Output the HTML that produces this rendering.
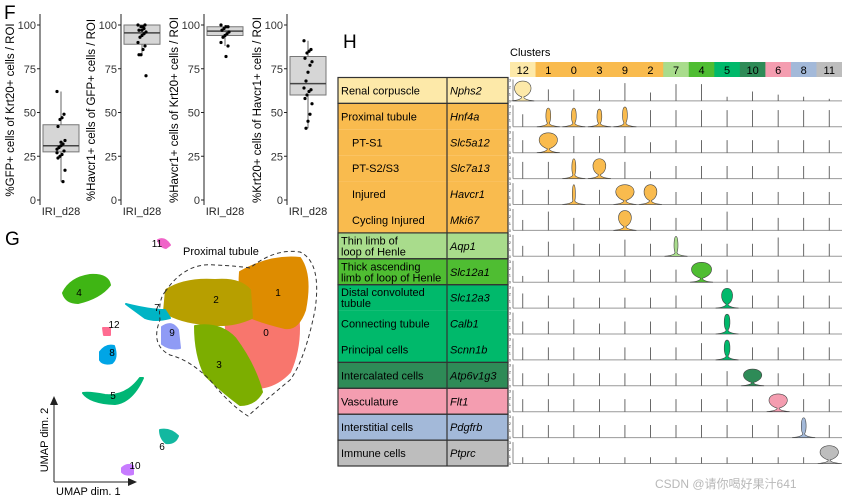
<!DOCTYPE html>
<html><head><meta charset="utf-8"><style>
html,body{margin:0;padding:0;background:#fff;}
svg{display:block;font-family:"Liberation Sans","Noto Sans CJK SC",sans-serif;}
</style></head><body>
<svg id="fig" width="842" height="500" viewBox="0 0 842 500">
<text x="4" y="19" font-size="19">F</text>
<text x="5" y="245" font-size="19">G</text>
<text x="343" y="48" font-size="19">H</text>
<g id="boxes"></g>
<g id="umap"></g>
<g id="violin"></g>
<text x="655" y="488" font-size="12" fill="#b8b8b8">CSDN @请你喝好果汁641</text>
</svg>
<script>
const NS='http://www.w3.org/2000/svg';
function mk(parent,tag,attrs,text){const e=document.createElementNS(NS,tag);for(const k in attrs)e.setAttribute(k,attrs[k]);if(text!==undefined)e.textContent=text;parent.appendChild(e);return e;}

// ---------- F: boxplots ----------
const boxTitles=['%GFP+ cells of Krt20+ cells / ROI','%Havcr1+ cells of GFP+ cells / ROI','%Havcr1+ cells of Krt20+ cells / ROI','%Krt20+ cells of Havcr1+ cells / ROI'];
const boxQ1=[27.5,89,94,60];
const boxMed=[31,95.5,96.5,66.5];
const boxQ3=[43,100,99,82];
const boxLo=[10.5,83,88,41];
const boxHi=[62,100,100,91];
const boxPts=[
 [62,49,47,46,42,34,32,31,30,29,28,26,25,24,17,10.5,33,30,27],
 [100,100,99,99,97,96,95,94,93,90,88,86,83,83,71,98,97],
 [100,99,99,98,97,96,95,94,93,90,88,82],
 [91,86,85,84,81,79,77,73,68,64,63,62,60,58,55,49,45,41]
];
const yTicks=[0,25,50,75,100];
const boxAxisX=[40,121,204,287];
const yScale=v=>200-v*1.75;
const gB=document.getElementById('boxes');
boxTitles.forEach((t,i)=>{
  const ax=boxAxisX[i];
  const g=mk(gB,'g',{});
  
  
  const axl=mk(g,'line',{x1:ax,y1:14,x2:ax,y2:205,stroke:'#222','stroke-width':1});
  
  yTicks.forEach(v=>{
    mk(g,'line',{x1:ax-3,y1:yScale(v),x2:ax,y2:yScale(v),stroke:'#222'});
    const tl=mk(g,'text',{x:ax-4,y:yScale(v)+4,'font-size':11,'text-anchor':'end',fill:'#333'},v);
    
  });
  const yt=mk(g,'text',{x:0,y:0,'font-size':11.5,'text-anchor':'middle',transform:`translate(${ax-26},${110}) rotate(-90)`},t);
  
  const xl=mk(g,'text',{x:ax+21,y:215,'font-size':11,'text-anchor':'middle',fill:'#222'},'IRI_d28');
  
  const cx=ax+21;
  mk(g,'line',{x1:cx,y1:yScale(boxLo[i]),x2:cx,y2:yScale(boxHi[i]),stroke:'#666'});
  const b=mk(g,'rect',{x:cx-18,y:yScale(boxQ3[i]),width:36,height:yScale(boxQ1[i])-yScale(boxQ3[i]),fill:'#d6d6d6',stroke:'#777','stroke-width':1});
  
  mk(g,'line',{x1:cx-18,y1:yScale(boxMed[i]),x2:cx+18,y2:yScale(boxMed[i]),stroke:'#444','stroke-width':1.5});
  boxPts[i].forEach((v,j)=>{
    const p=mk(g,'circle',{cx:cx+((j*7)%9-4),cy:yScale(v),r:1.6,fill:'#000'});
    
  });
});

// ---------- G: UMAP ----------
const gU=document.getElementById('umap');
const umapClusters=['0','1','2','3','4','5','6','7','8','9','10','11','12'];
const umapColors=['#f8766d','#de8c00','#b79f00','#7cae00','#3fb514','#00b675','#13b8a0','#00b4c5','#00a5e6','#8f9bf5','#c77cff','#f064c8','#ff6c91'];
const umapShapes={
 '0':'M225,318 Q255,305 298,312 Q302,345 290,372 Q275,388 255,388 Q240,370 228,350Z',
 '1':'M240,272 Q270,255 300,258 Q312,275 305,310 Q298,330 285,328 Q260,322 245,315 Q238,300 240,272Z',
 '2':'M166,290 Q185,278 215,280 Q240,278 250,290 L252,318 Q230,328 205,324 Q180,322 164,312Z',
 '3':'M195,326 Q220,322 235,338 Q255,365 262,392 Q255,405 240,405 Q220,390 205,375 Q195,355 195,326Z',
 '9':'M162,327 Q172,320 178,330 L180,348 Q170,350 162,344Z',
 '7':'M126,304 Q150,310 165,310 L170,318 Q155,322 145,318Z',
 '4':'M63,293 Q70,278 90,275 Q108,274 110,285 Q100,298 78,303 Q66,303 63,293Z',
 '12':'M103,328 L110,328 L110,335 L104,335Z',
 '8':'M100,352 Q106,344 114,346 Q118,358 112,363 Q103,365 100,360Z',
 '5':'M83,393 Q90,403 115,404 Q132,402 143,378 L140,378 Q126,397 105,395 Q90,392 83,393Z',
 '6':'M160,430 Q170,428 178,436 Q175,444 166,443 Q160,438 160,430Z',
 '10':'M122,468 Q128,463 133,466 L133,474 Q126,476 122,472Z',
 '11':'M158,240 Q165,237 170,245 L166,248 Q160,247 158,240Z'
};
const umapLabelPos={'0':[266,336],'1':[278,296],'2':[216,303],'3':[219,368],'4':[79,296],'5':[113,399],'6':[162,450],'7':[157,311],'8':[112,356],'9':[172,336],'10':[135,469],'11':[157,247],'12':[114,328]};
umapClusters.forEach((c,i)=>{
  const p=mk(gU,'path',{d:umapShapes[c],fill:umapColors[i],stroke:umapColors[i],'stroke-width':2,'stroke-linejoin':'round'});
  
  const t=mk(gU,'text',{x:umapLabelPos[c][0],y:umapLabelPos[c][1],'font-size':10,'text-anchor':'middle'},c);
  
});
const dash=mk(gU,'path',{d:'M165,292 Q185,262 215,265 Q238,266 250,268 Q275,248 300,252 Q322,262 315,310 Q305,360 290,380 Q268,398 248,416 Q230,405 210,380 Q190,360 170,355 Q150,345 160,320 Q158,300 165,292Z',fill:'none',stroke:'#333','stroke-dasharray':'4,3','stroke-width':1});

const ptl=mk(gU,'text',{x:183,y:255,'font-size':11},'Proximal tubule');

mk(gU,'line',{x1:54,y1:482,x2:54,y2:400,stroke:'#222'});
mk(gU,'path',{d:'M54,396 L50,405 L58,405Z',fill:'#222'});
mk(gU,'line',{x1:54,y1:482,x2:132,y2:482,stroke:'#222'});
mk(gU,'path',{d:'M137,482 L128,478 L128,486Z',fill:'#222'});
const ux=mk(gU,'text',{x:56,y:495,'font-size':11},'UMAP dim. 1');

const uy=mk(gU,'text',{x:0,y:0,'font-size':11,'text-anchor':'middle',transform:'translate(48,440) rotate(-90)'},'UMAP dim. 2');


// ---------- H: stacked violin ----------
const vClusters=['12','1','0','3','9','2','7','4','5','10','6','8','11'];
const vClusterColors=['#fde9a9','#f9bb4e','#f9bb4e','#f9bb4e','#f9bb4e','#f9bb4e','#a9dc8c','#4fbd32','#00b96b','#2e8b57','#f49db0','#a3b9d9','#bdbdbd'];
const genes=['Nphs2','Hnf4a','Slc5a12','Slc7a13','Havcr1','Mki67','Aqp1','Slc12a1','Slc12a3','Calb1','Scnn1b','Atp6v1g3','Flt1','Pdgfrb','Ptprc'];
const rowColors=['#fde9a9','#f9bb4e','#f9bb4e','#f9bb4e','#f9bb4e','#f9bb4e','#a9dc8c','#4fbd32','#00b96b','#00b96b','#00b96b','#2e8b57','#f49db0','#a3b9d9','#bdbdbd'];
const groupLabels=[['Renal corpuscle',0,1],['',1,6],['Thin limb of|loop of Henle',6,1],['Thick ascending|limb of loop of Henle',7,1],['',8,3],['Intercalated cells',11,1],['Vasculature',12,1],['Interstitial cells',13,1],['Immune cells',14,1]];
const rowLabels=['','Proximal tubule','PT-S1','PT-S2/S3','Injured','Cycling Injured','','','Distal convoluted|tubule','Connecting tubule','Principal cells','','','',''];
const tickH=[
 [0.95,0.55,0.55,0.55,0.85,0.4,0.8,0.8,0.2,0.45,0.3,0.2,0.1],
 [0.6,0.9,0.9,0.85,0.95,0.8,0.8,0.8,0.8,0.8,0.8,0.8,0.8],
 [0.6,0.95,0.8,0.8,0.8,0.5,0.6,0.6,0.6,0.6,0.6,0.6,0.6],
 [0.8,0.8,0.95,0.95,0.8,0.35,0.6,0.6,0.6,0.6,0.6,0.6,0.6],
 [0.7,0.7,0.95,0.7,0.95,0.95,0.6,0.6,0.6,0.6,0.6,0.6,0.6],
 [0.5,0.9,0.6,0.6,0.95,0.6,0.6,0.6,0.9,0.6,0.6,0.6,0.6],
 [0.5,0.7,0.6,0.6,0.8,0.6,0.95,0.6,0.6,0.6,0.9,0.6,0.6],
 [0.3,0.6,0.6,0.6,0.6,0.6,0.6,0.95,0.6,0.6,0.6,0.6,0.6],
 [0.7,0.6,0.5,0.5,0.5,0.5,0.6,0.6,0.95,0.6,0.6,0.6,0.6],
 [0.6,0.6,0.7,0.5,0.6,0.6,0.6,0.6,0.95,0.6,0.6,0.6,0.6],
 [0.6,0.6,0.6,0.6,0.6,0.6,0.6,0.8,0.95,0.6,0.6,0.6,0.6],
 [0.6,0.6,0.6,0.6,0.6,0.6,0.6,0.6,0.7,0.8,0.6,0.6,0.6],
 [0.6,0.6,0.6,0.6,0.6,0.6,0.6,0.6,0.6,0.6,0.85,0.6,0.6],
 [0.6,0.6,0.6,0.6,0.6,0.6,0.6,0.6,0.6,0.6,0.6,0.95,0.6],
 [0.3,0.3,0.3,0.3,0.3,0.3,0.3,0.3,0.3,0.3,0.3,0.3,0.85]
];
const violinW=[
 [9,0,0,0,0,0,0,0,0,0,0,0,0],
 [0,2.5,2.5,2.5,2.5,0,0,0,0,0,0,0,0],
 [0,10,0,0,0,0,0,0,0,0,0,0,0],
 [0,0,2,7,0,0,0,0,0,0,0,0,0],
 [0,0,1.5,0,10,7,0,0,0,0,0,0,0],
 [0,0,0,0,7,0,0,0,0,0,0,0,0],
 [0,0,0,0,0,0,2,0,0,0,0,0,0],
 [0,0,0,0,0,0,0,11,0,0,0,0,0],
 [0,0,0,0,0,0,0,0,6,0,0,0,0],
 [0,0,0,0,0,0,0,0,3,0,0,0,0],
 [0,0,0,0,0,0,0,0,3,0,0,0,0],
 [0,0,0,0,0,0,0,0,0,10,0,0,0],
 [0,0,0,0,0,0,0,0,0,0,10,0,0],
 [0,0,0,0,0,0,0,0,0,0,0,2.5,0],
 [0,0,0,0,0,0,0,0,0,0,0,0,10]
];
const gV=document.getElementById('violin');
const TX0=338,TX1=447,TX2=508,TOP=77.5,RH=25.9,PX0=510,PX1=842,CW=(PX1-PX0)/13;
const colX=i=>PX0+CW*(i+0.5);
const rowY=i=>TOP+RH*i;
const ct=mk(gV,'text',{x:PX0,y:56,'font-size':11},'Clusters');

vClusters.forEach((c,i)=>{
  const r=mk(gV,'rect',{x:PX0+CW*i,y:62,width:CW+0.5,height:15,fill:vClusterColors[i]});
  
  const t=mk(gV,'text',{x:colX(i),y:74,'font-size':11,'text-anchor':'middle'},c);
  
});
genes.forEach((g,i)=>{
  const y=rowY(i);
  mk(gV,'rect',{x:TX0,y:y,width:TX2-TX0,height:RH,fill:rowColors[i]});
  const gt=mk(gV,'text',{x:TX1+3,y:y+RH/2+4,'font-size':11,'font-style':'italic'},g);
  
  if(rowLabels[i]){
    const parts=rowLabels[i].split('|');const ind=(i>=2&&i<=5)?14:3;
    parts.forEach((p,k)=>{const t=mk(gV,'text',{x:TX0+ind,y:y+RH/2+4+(k-(parts.length-1)/2)*11,'font-size':11},p);
      });
  }
  const base=y+RH-2.5, h=RH-5;
  mk(gV,'line',{x1:PX0+3,y1:y+2,x2:PX0+3,y2:base,stroke:'#555','stroke-width':0.7});
  ['0','1','2','3'].forEach((lab,k)=>mk(gV,'text',{x:PX0+1,y:base-k*h/3+1.5,'font-size':4,'text-anchor':'end',fill:'#333'},lab));
  mk(gV,'line',{x1:PX0+3,y1:base,x2:PX1,y2:base,stroke:'#999','stroke-width':1});
  vClusters.forEach((c,j)=>{
    const cx=colX(j), top=base-tickH[i][j]*h, w=violinW[i][j];
    if(w>0){
      const vh=base-top;
      const neck=base-vh*0.2;
      const d=`M${cx-CW*0.45},${base} Q${cx-1},${base-1} ${cx-1},${neck} C${cx-w*1.3},${base-vh*0.4} ${cx-w*1.1},${top} ${cx},${top} C${cx+w*1.1},${top} ${cx+w*1.3},${base-vh*0.4} ${cx+1},${neck} Q${cx+1},${base-1} ${cx+CW*0.45},${base}Z`;
      const v=mk(gV,'path',{d:d,fill:vClusterColors[j],stroke:'#444','stroke-width':0.6});
      
    } else {
      const l=mk(gV,'line',{x1:cx,y1:top,x2:cx,y2:base,stroke:'#444','stroke-width':0.8});
      
    }
  });
});
groupLabels.forEach(([lab,s,n])=>{
  const y=rowY(s),hh=RH*n;
  mk(gV,'rect',{x:TX0,y:y,width:TX2-TX0,height:hh,fill:'none',stroke:'#333','stroke-width':1.2});
  if(lab){const parts=lab.split('|');
    parts.forEach((p,k)=>{const t=mk(gV,'text',{x:TX0+3,y:y+hh/2+4+(k-(parts.length-1)/2)*11,'font-size':11},p);
      });}
});
mk(gV,'line',{x1:TX1,y1:TOP,x2:TX1,y2:rowY(15),stroke:'#333','stroke-width':1.2});
</script>
</body></html>
